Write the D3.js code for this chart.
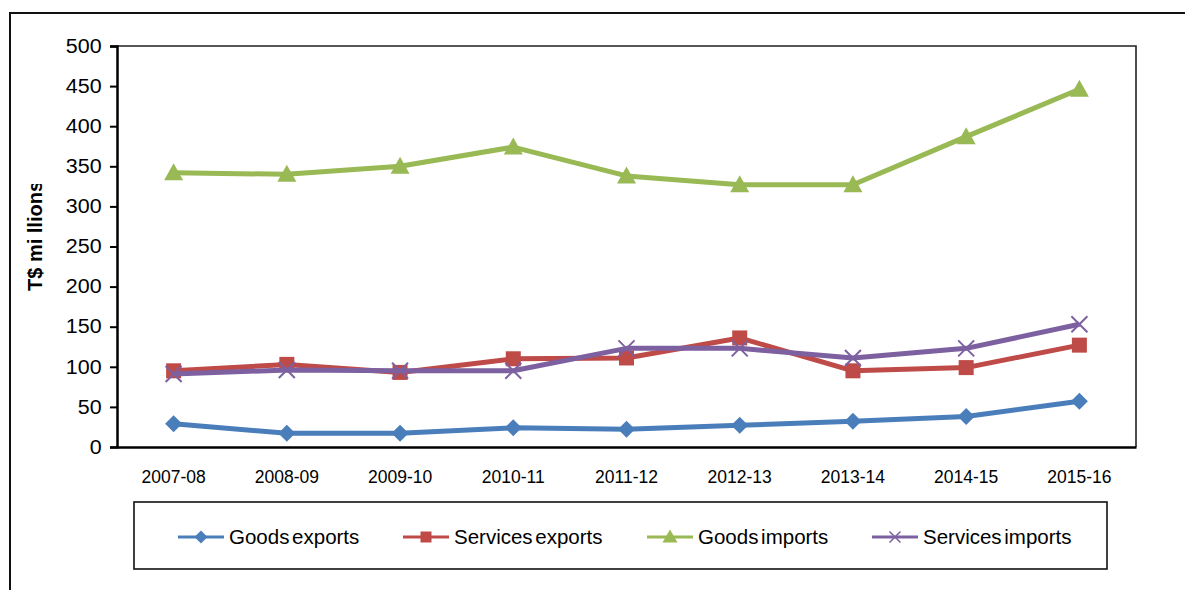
<!DOCTYPE html>
<html>
<head>
<meta charset="utf-8">
<script src="https://cdn.jsdelivr.net/npm/d3@7"></script>
<style>
  html, body { margin: 0; padding: 0; background: #fff; }
  svg { display: block; font-family: "Liberation Sans", Arial, sans-serif; }
</style>
</head>
<body>
<svg id="chart" width="1185" height="590"></svg>
<script>
// Trade in goods and services by year, T$ millions
const years = ["2007-08", "2008-09", "2009-10", "2010-11", "2011-12", "2012-13", "2013-14", "2014-15", "2015-16"];
const goodsExports    = [29, 17, 17, 24, 22, 27, 32, 38, 57];
const servicesExports = [95, 103, 93, 110, 111, 136, 95, 99, 127];
const goodsImports    = [342, 340, 350, 374, 338, 327, 327, 387, 446];
const servicesImports = [91, 96, 95, 95, 123, 123, 111, 123, 153];
const yTicks = [0, 50, 100, 150, 200, 250, 300, 350, 400, 450, 500];

const seriesNames  = ["Goods exports", "Services exports", "Goods imports", "Services imports"];
const seriesValues = [goodsExports, servicesExports, goodsImports, servicesImports];
const seriesColors = ["#4a7ebb", "#be4b48", "#98b954", "#7d60a0"];
const seriesMarks  = ["diamond", "square", "triangle", "cross"];

const svg = d3.select("#chart");
const plot = { left: 117, top: 46, right: 1136, bottom: 447 };

const x = d3.scaleBand().domain(years).range([plot.left, plot.right]);
const y = d3.scaleLinear().domain([0, 500]).range([plot.bottom, plot.top]);

// outer frame (runs off the right and bottom edges)
svg.append("path")
  .attr("d", "M10,600 L10,13 L1195,13")
  .attr("fill", "none").attr("stroke", "#111").attr("stroke-width", 2);

// plot area border (top and right)
svg.append("path")
  .attr("d", `M${plot.left},${plot.top} L${plot.right},${plot.top} L${plot.right},${plot.bottom}`)
  .attr("fill", "none").attr("stroke", "#222").attr("stroke-width", 1.6);

// y axis
const yAxis = svg.append("g")
  .attr("transform", `translate(${plot.left},0)`)
  .call(d3.axisLeft(y).tickValues(yTicks).tickSize(7).tickPadding(9).tickFormat(d3.format("d")));
yAxis.select(".domain").attr("stroke", "#000").attr("stroke-width", 2.5);
yAxis.selectAll(".tick line").attr("stroke", "#000").attr("stroke-width", 2);
yAxis.selectAll(".tick text")
  .attr("fill", "#000").attr("font-size", 19.5)
  .attr("font-family", "'Liberation Sans', Arial, sans-serif")
  .attr("transform", "scale(1.1,1)").attr("dx", 2);

// x axis
const xAxis = svg.append("g")
  .attr("transform", `translate(0,${plot.bottom})`)
  .call(d3.axisBottom(x).tickSize(0).tickPadding(24));
xAxis.select(".domain").attr("stroke", "#000").attr("stroke-width", 2.5);
xAxis.selectAll(".tick text")
  .attr("fill", "#000").attr("font-size", 17.5)
  .attr("font-family", "'Liberation Sans', Arial, sans-serif");

// y axis title, clipped at the top
svg.append("clipPath").attr("id", "titleClip")
  .append("rect").attr("x", 0).attr("y", 184).attr("width", 80).attr("height", 200);
svg.append("g")
  .attr("clip-path", "url(#titleClip)")
  .append("text")
  .attr("transform", "translate(42,291) rotate(-90)")
  .attr("font-size", 20).attr("font-weight", "bold")
  .attr("fill", "#000")
  .text("T$ mi llions");

// marker shapes
function markerPath(kind, s) {
  const h = s / 2;
  switch (kind) {
    case "diamond":  return `M0,${-h - 1}L${h + 1},0L0,${h + 1}L${-h - 1},0Z`;
    case "square":   return `M${-h},${-h}H${h}V${h}H${-h}Z`;
    case "triangle": return `M0,${-h - 2}L${h + 2},${h}L${-h - 2},${h}Z`;
    case "cross":    return `M${-h},${-h}L${h},${h}M${h},${-h}L${-h},${h}`;
  }
}

const cx = d => x(d) + x.bandwidth() / 2;
const line = d3.line().x(d => cx(d.year)).y(d => y(d.value));

seriesValues.forEach((vals, i) => {
  const pts = years.map((yr, j) => ({ year: yr, value: vals[j] }));
  const g = svg.append("g");
  g.append("path").datum(pts)
    .attr("d", line)
    .attr("fill", "none")
    .attr("stroke", seriesColors[i])
    .attr("stroke-width", 5)
    .attr("stroke-linejoin", "round");
  const kind = seriesMarks[i];
  g.selectAll(".m").data(pts).enter().append("path")
    .attr("transform", d => `translate(${cx(d.year)},${y(d.value)})`)
    .attr("d", markerPath(kind, kind === "cross" ? 16 : 15))
    .attr("fill", kind === "cross" ? "none" : seriesColors[i])
    .attr("stroke", seriesColors[i])
    .attr("stroke-width", kind === "cross" ? 2 : 0);
});

// legend
const legend = { x: 134, y: 502, w: 973, h: 67 };
svg.append("rect")
  .attr("x", legend.x).attr("y", legend.y).attr("width", legend.w).attr("height", legend.h)
  .attr("fill", "#fff").attr("stroke", "#111").attr("stroke-width", 1.6);

const legendX = [178, 403, 647, 872];
const legendY = 537;
seriesNames.forEach((name, i) => {
  const g = svg.append("g").attr("transform", `translate(${legendX[i]},${legendY})`);
  g.append("line").attr("x1", 0).attr("x2", 46).attr("y1", 0).attr("y2", 0)
    .attr("stroke", seriesColors[i]).attr("stroke-width", 3);
  const kind = seriesMarks[i];
  g.append("path")
    .attr("transform", "translate(23,0)")
    .attr("d", markerPath(kind, 11))
    .attr("fill", kind === "cross" ? "none" : seriesColors[i])
    .attr("stroke", seriesColors[i])
    .attr("stroke-width", kind === "cross" ? 1.5 : 0);
  g.append("text")
    .attr("x", 51).attr("y", 0).attr("dy", "0.35em")
    .attr("font-size", 20.5).attr("fill", "#000")
    .attr("word-spacing", -3)
    .text(name);
});
</script>
</body>
</html>
